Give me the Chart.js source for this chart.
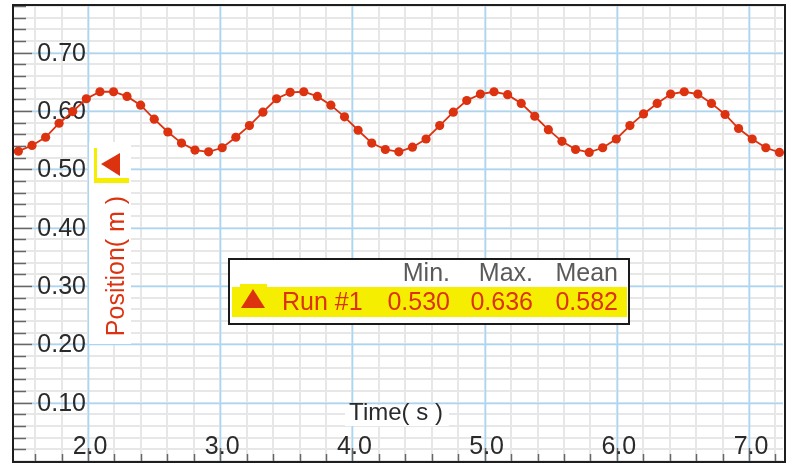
<!DOCTYPE html>
<html>
<head>
<meta charset="utf-8">
<script src="https://cdn.jsdelivr.net/npm/chart.js@4.4.1/dist/chart.umd.min.js"></script>
<style>
  html, body { margin: 0; padding: 0; background: #fff; }
  #wrap { width: 793px; height: 466px; position: relative; }
</style>
</head>
<body>
<div id="wrap"><canvas id="posChart"></canvas></div>
<script>
// Data (time in s, position in m)
const times = [1.473, 1.576, 1.679, 1.781, 1.884, 1.987, 2.090, 2.193, 2.295, 2.398,
  2.501, 2.604, 2.707, 2.809, 2.912, 3.015, 3.118, 3.221, 3.323, 3.426,
  3.529, 3.632, 3.735, 3.837, 3.940, 4.043, 4.146, 4.249, 4.351, 4.454,
  4.557, 4.660, 4.763, 4.865, 4.968, 5.071, 5.174, 5.277, 5.379, 5.482,
  5.585, 5.688, 5.791, 5.893, 5.996, 6.099, 6.202, 6.305, 6.407, 6.510,
  6.613, 6.716, 6.819, 6.921, 7.024, 7.127, 7.230];
const positions = [0.531, 0.541, 0.555, 0.579, 0.599, 0.621, 0.633, 0.633, 0.625, 0.610,
  0.586, 0.564, 0.545, 0.533, 0.530, 0.537, 0.555, 0.575, 0.598, 0.621,
  0.632, 0.633, 0.625, 0.610, 0.590, 0.567, 0.545, 0.534, 0.530, 0.538,
  0.552, 0.575, 0.598, 0.618, 0.629, 0.633, 0.628, 0.613, 0.591, 0.568,
  0.548, 0.534, 0.529, 0.537, 0.552, 0.575, 0.595, 0.613, 0.629, 0.633,
  0.629, 0.613, 0.594, 0.570, 0.552, 0.537, 0.529];

const xTickValues = [2, 3, 4, 5, 6, 7];
const xTickLabels = ['2.0', '3.0', '4.0', '5.0', '6.0', '7.0'];
const yTickValues = [0.1, 0.2, 0.3, 0.4, 0.5, 0.6, 0.7];
const yTickLabels = ['0.10', '0.20', '0.30', '0.40', '0.50', '0.60', '0.70'];

const legendHeaders = ['Min.', 'Max.', 'Mean'];
const runName = 'Run #1';
const runStats = ['0.530', '0.636', '0.582'];

const RED = '#dc3210';
const BLUE = '#a8d6f4';
const GRAY = '#e7e7e7';
const FONT = '25px "Liberation Sans", Arial, sans-serif';

const loggerPro = {
  id: 'loggerPro',
  beforeDraw(chart) {
    const ctx = chart.ctx;
    ctx.save();
    ctx.fillStyle = '#fff';
    ctx.fillRect(0, 0, chart.width, chart.height);
    ctx.restore();
  },
  beforeDatasetsDraw(chart) {
    const { ctx, chartArea: a, scales: { x, y } } = chart;
    ctx.save();
    // minor grid
    ctx.strokeStyle = GRAY;
    ctx.lineWidth = 2;
    for (let k = 7; k <= 37; k++) {
      const px = Math.round(x.getPixelForValue(k * 0.2));
      if (px < a.left || px > a.right) continue;
      ctx.beginPath(); ctx.moveTo(px, a.top); ctx.lineTo(px, a.bottom); ctx.stroke();
    }
    for (let k = 0; k <= 39; k++) {
      const py = Math.round(y.getPixelForValue(k * 0.02));
      if (py < a.top || py > a.bottom) continue;
      ctx.beginPath(); ctx.moveTo(a.left, py); ctx.lineTo(a.right, py); ctx.stroke();
    }
    // major grid
    ctx.strokeStyle = BLUE;
    ctx.lineWidth = 1.6;
    xTickValues.forEach(v => {
      const px = Math.round(x.getPixelForValue(v)) + 0.5;
      ctx.beginPath(); ctx.moveTo(px, a.top); ctx.lineTo(px, a.bottom); ctx.stroke();
    });
    yTickValues.forEach(v => {
      const py = Math.round(y.getPixelForValue(v)) + 0.5;
      ctx.beginPath(); ctx.moveTo(a.left + 18, py); ctx.lineTo(a.right, py); ctx.stroke();
    });
    // tick marks on left and bottom edges
    ctx.strokeStyle = '#666';
    ctx.lineWidth = 1.5;
    for (let k = 0; k <= 39; k++) {
      const py = Math.round(y.getPixelForValue(k * 0.02)) + 0.5;
      if (py < a.top || py > a.bottom) continue;
      const len = (k % 5 === 0) ? 18 : 12;
      ctx.beginPath(); ctx.moveTo(a.left, py); ctx.lineTo(a.left + len, py); ctx.stroke();
    }
    for (let k = 7; k <= 37; k++) {
      const px = Math.round(x.getPixelForValue(k * 0.2)) + 0.5;
      if (px < a.left || px > a.right) continue;
      const len = (k % 5 === 0) ? 13 : 7;
      ctx.beginPath(); ctx.moveTo(px, a.bottom); ctx.lineTo(px, a.bottom - len); ctx.stroke();
    }
    // white box behind y title and series marker
    ctx.fillStyle = '#fff';
    ctx.fillRect(89, 142, 42, 202);
    ctx.fillRect(345, 405, 104, 21);
    // tick labels
    ctx.font = FONT;
    ctx.fillStyle = '#2a2a2a';
    ctx.textAlign = 'right';
    ctx.textBaseline = 'middle';
    yTickValues.forEach((v, i) => {
      ctx.fillText(yTickLabels[i], 86, y.getPixelForValue(v) + 1);
    });
    ctx.textAlign = 'center';
    xTickValues.forEach((v, i) => {
      ctx.fillText(xTickLabels[i], x.getPixelForValue(v) + 2, a.bottom - 14);
    });
    // axis titles
    ctx.font = '24px "Liberation Sans", Arial, sans-serif';
    ctx.fillText('Time( s )', 396, 413);
    ctx.save();
    ctx.translate(117, 266);
    ctx.rotate(-Math.PI / 2);
    ctx.fillStyle = RED;
    ctx.font = FONT;
    ctx.fillText('Position( m )', 0, 0);
    ctx.restore();
    // series marker near y axis
    ctx.fillStyle = '#f5ee00';
    ctx.fillRect(94, 148, 3, 35);
    ctx.fillRect(94, 178, 35, 5);
    ctx.fillStyle = RED;
    ctx.beginPath();
    ctx.moveTo(101, 164); ctx.lineTo(120, 153); ctx.lineTo(120, 176); ctx.closePath();
    ctx.fill();
    ctx.restore();
  },
  afterDatasetsDraw(chart) {
    const ctx = chart.ctx;
    ctx.save();
    // legend / stats box
    ctx.fillStyle = '#fff';
    ctx.fillRect(229, 259, 400, 65);
    ctx.fillStyle = '#f5ee00';
    ctx.fillRect(232, 287, 395, 30);
    ctx.fillRect(240, 284, 27, 4);
    ctx.strokeStyle = '#1a1a1a';
    ctx.lineWidth = 2;
    ctx.strokeRect(229, 259, 400, 65);
    ctx.fillStyle = RED;
    ctx.beginPath();
    ctx.moveTo(241, 308); ctx.lineTo(265, 308); ctx.lineTo(253, 289); ctx.closePath();
    ctx.fill();
    ctx.font = FONT;
    ctx.textBaseline = 'middle';
    ctx.textAlign = 'right';
    const colRight = [450, 533, 618];
    ctx.fillStyle = '#5a5a5a';
    legendHeaders.forEach((h, i) => ctx.fillText(h, colRight[i], 274));
    ctx.fillStyle = RED;
    ctx.textAlign = 'left';
    ctx.fillText(runName, 282, 303);
    ctx.textAlign = 'right';
    runStats.forEach((s, i) => ctx.fillText(s, colRight[i], 303));
    ctx.restore();
  },
  afterDraw(chart) {
    const ctx = chart.ctx;
    ctx.save();
    ctx.strokeStyle = '#1e1e1e';
    ctx.lineWidth = 2;
    ctx.strokeRect(13, 5, 772, 457);
    ctx.restore();
  }
};

new Chart(document.getElementById('posChart').getContext('2d'), {
  type: 'scatter',
  data: {
    datasets: [{
      label: runName,
      data: times.map((t, i) => ({ x: t, y: positions[i] })),
      showLine: true,
      borderColor: RED,
      borderWidth: 1.8,
      backgroundColor: RED,
      pointBackgroundColor: RED,
      pointBorderWidth: 0,
      pointRadius: 4.6,
      clip: false
    }]
  },
  options: {
    responsive: true,
    maintainAspectRatio: false,
    animation: false,
    layout: { padding: { left: 14, right: 10, top: 6, bottom: 5 } },
    plugins: {
      legend: { display: false },
      tooltip: { enabled: false }
    },
    scales: {
      x: { type: 'linear', min: 1.44, max: 7.257, display: false },
      y: { type: 'linear', min: 0, max: 0.78, display: false }
    }
  },
  plugins: [loggerPro]
});
</script>
</body>
</html>
